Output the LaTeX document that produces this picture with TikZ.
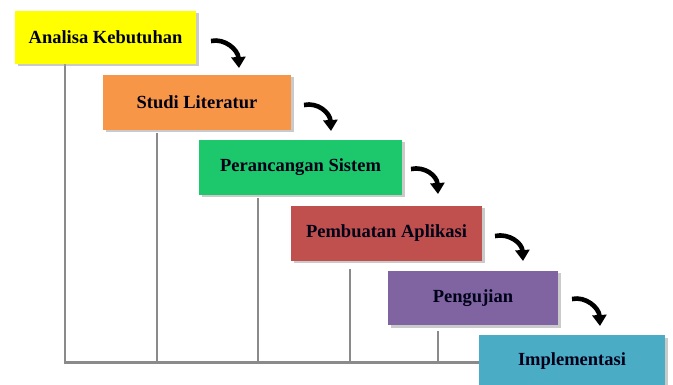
\documentclass[tikz,border=0pt]{standalone}
\usepackage{fontspec}
\setmainfont{Liberation Serif}
\usetikzlibrary{arrows.meta,shadows}
\definecolor{cyel}{HTML}{FFFF00}
\definecolor{corg}{HTML}{F79646}
\definecolor{cgrn}{HTML}{1DC76B}
\definecolor{cred}{HTML}{C0504D}
\definecolor{cpur}{HTML}{8064A2}
\definecolor{ccya}{HTML}{4BACC6}
\definecolor{cbus}{HTML}{8A8A8A}
\begin{document}
\begin{tikzpicture}[x=1pt,y=-1pt,
  stage/.style={draw=none, inner sep=0pt, anchor=center,
    font=\bfseries\fontsize{18.5}{21}\selectfont, text=black!90!blue,
    drop shadow={shadow xshift=2.5pt, shadow yshift=-2.5pt, fill=black!35, opacity=0.6}},
  bus/.style={draw=cbus, line width=2.6pt},
  flow/.style={line width=4.6pt, -{Triangle[length=11pt,width=14pt]}}]
\useasboundingbox (0,0) rectangle (673,385);
\clip (0,0) rectangle (673,385);
% lines
\coordinate (v1t) at (65,64);
\coordinate (v2t) at (157,133);
\coordinate (v3t) at (258,198);
\coordinate (v4t) at (350,269);
\coordinate (v5t) at (438,331);
\coordinate (v1b) at (65,362.5);
\coordinate (v2b) at (157,362.5);
\coordinate (v3b) at (258,362.5);
\coordinate (v4b) at (350,362.5);
\coordinate (v5b) at (438,362.5);
\coordinate (busend) at (480,362.5);
\draw[bus] (v1t) -- (v1b) -- (busend);
\draw[bus] (v2t) -- (v2b);
\draw[bus] (v3t) -- (v3b);
\draw[bus] (v4t) -- (v4b);
\draw[bus] (v5t) -- (v5b);
% boxes
\node[stage, fill=cyel, minimum width=181pt, minimum height=53pt] (b1) at (105.5,37.5) {Analisa Kebutuhan};
\node[stage, fill=corg, minimum width=188pt, minimum height=55pt] (b2) at (197,102.5) {Studi Literatur};
\node[stage, fill=cgrn, minimum width=203pt, minimum height=55pt] (b3) at (300.5,167.5) {Perancangan Sistem};
\node[stage, fill=cred, minimum width=191pt, minimum height=55pt] (b4) at (386.5,233.5) {Pembuatan Aplikasi};
\node[stage, fill=cpur, minimum width=170pt, minimum height=54pt] (b5) at (473,298) {Pengujian};
\node[stage, fill=ccya, minimum width=186pt, minimum height=52pt] (b6) at (572,361) {Implementasi};
% arrows
\coordinate (a1s) at (211,41);  \coordinate (a1e) at (239,68);
\coordinate (a2s) at (304,105); \coordinate (a2e) at (331,131);
\coordinate (a3s) at (411,169); \coordinate (a3e) at (438,194);
\coordinate (a4s) at (495,236); \coordinate (a4e) at (523,261);
\coordinate (a5s) at (572,299); \coordinate (a5e) at (600,326);
\foreach \i in {1,...,5}{
  \draw[flow] (a\i s) .. controls ([shift={(14,-3)}]a\i s) and ([shift={(-1,-18)}]a\i e) .. (a\i e);
}
\end{tikzpicture}
\end{document}
